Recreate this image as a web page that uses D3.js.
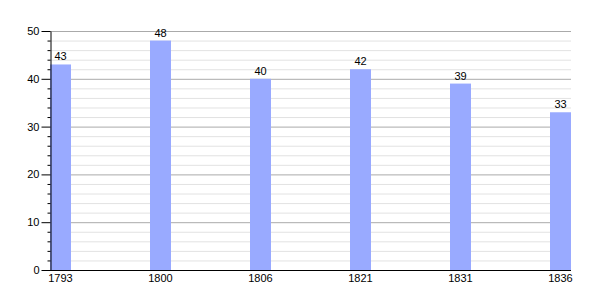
<!DOCTYPE html>
<html>
<meta charset="utf-8">
<head>
<style>
body { margin: 0; background: #fff; }
svg text { font-family: "Liberation Sans", Arial, sans-serif; font-size: 11px; fill: #000; }
</style>
</head>
<body>
<script src="https://d3js.org/d3.v7.min.js"></script>
<script>
// data
var years = ["1793", "1800", "1806", "1821", "1831", "1836"];
var values = [43, 48, 40, 42, 39, 33];
var majorTicks = [0, 10, 20, 30, 40, 50];

var width = 600, height = 300;

var svg = d3.select("body").append("svg")
    .attr("width", width)
    .attr("height", height);

// scales
var x = d3.scaleBand()
    .domain(years)
    .range([50, 571])
    .paddingInner(0.79)
    .paddingOuter(0);

var y = d3.scaleLinear()
    .domain([0, 50])
    .range([270, 31]);

var minor = d3.range(0, 51, 2).filter(v => v % 10 != 0);

// minor grid
svg.append("g").selectAll("line")
  .data(minor).enter()
  .append("line")
    .attr("x1", 50).attr("x2", 571)
    .attr("y1", d => y(d) + 0.5).attr("y2", d => y(d) + 0.5)
    .style("stroke", "#e2e2e2");

// major grid
svg.append("g").selectAll("line")
  .data(majorTicks.slice(1)).enter()
  .append("line")
    .attr("x1", 50).attr("x2", 571)
    .attr("y1", d => y(d) + 0.5).attr("y2", d => y(d) + 0.5)
    .style("stroke", "#aaaaaa");

// bars
svg.append("g").selectAll("rect")
  .data(values).enter()
  .append("rect")
    .attr("x", (d, i) => x(years[i]))
    .attr("y", d => y(d))
    .attr("width", x.bandwidth())
    .attr("height", d => y(0) - y(d))
    .style("fill", "#99aaff");

// value labels
svg.append("g").selectAll("text")
  .data(values).enter()
  .append("text")
    .attr("x", (d, i) => x(years[i]) + x.bandwidth() / 2)
    .attr("y", d => y(d) - 4)
    .style("text-anchor", "middle")
    .text(d => d);

// y axis minor ticks
svg.append("g")
    .attr("transform", "translate(50.5,0)")
    .call(d3.axisLeft(y).tickValues(minor).tickSize(3).tickFormat(""))
    .call(g => g.select(".domain").remove());

// y axis
svg.append("g")
    .attr("transform", "translate(50.5,0)")
    .call(d3.axisLeft(y).tickValues(majorTicks).tickSize(9).tickPadding(2).tickSizeOuter(0))
    .call(g => g.selectAll("text").style("font-size", "11px"));

// x baseline
svg.append("line")
    .attr("x1", 50).attr("x2", 571)
    .attr("y1", y(0) + 0.5).attr("y2", y(0) + 0.5)
    .style("stroke", "#000");

// x labels
svg.append("g").selectAll("text")
  .data(years).enter()
  .append("text")
    .attr("x", d => x(d) + x.bandwidth() / 2)
    .attr("y", y(0) + 8)
    .attr("dy", "0.32em")
    .style("text-anchor", "middle")
    .text(d => d);
</script>
</body>
</html>
